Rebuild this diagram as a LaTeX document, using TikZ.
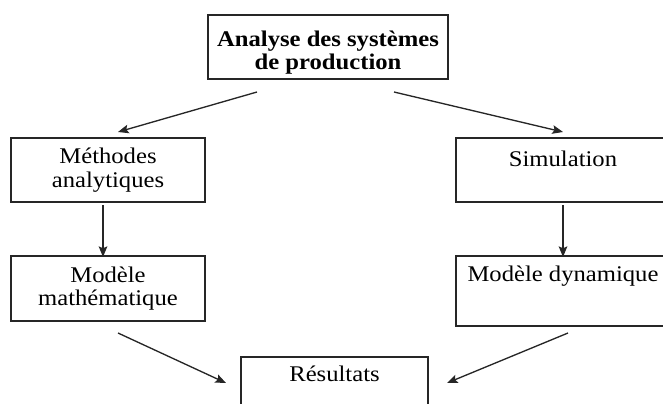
\documentclass[tikz,border=0pt]{standalone}
\usepackage{fontspec}
\setmainfont{Liberation Serif}[FakeStretch=1.1]
\usetikzlibrary{arrows.meta}
\begin{document}
\begin{tikzpicture}[x=0.75pt,y=-0.75pt,
  box/.style={draw=black!85, line width=1.2pt, inner sep=0pt, align=center,
    font=\fontsize{16.8pt}{17.6pt}\selectfont},
  conn/.style={draw=black!85, line width=1pt, -{Stealth[length=8pt,width=6.5pt,inset=1.5pt]}}]
\useasboundingbox (0,0) rectangle (663,403);
\clip (0,0) rectangle (663,403);
\node[box, minimum width=180pt, minimum height=48pt, font=\fontsize{16.8pt}{17.4pt}\selectfont\bfseries] (top) at (328,47) {\rule{0pt}{20pt}Analyse des systèmes\\de production};
\node[box, minimum width=145.5pt, minimum height=48pt] (meth) at (108,170) {Méthodes\\analytiques};
\node[box, minimum width=145.5pt, minimum height=48.75pt] (math) at (108,288.5) {Modèle\\mathématique};
\node[box, minimum width=160.5pt, minimum height=48pt] (sim) at (563,170) {Simulation\\\mbox{}};
\node[box, minimum width=160.5pt, minimum height=52.5pt] (dyn) at (563,291) {Modèle dynamique\\[8pt]\mbox{}};
\node[box, minimum width=140.25pt, minimum height=45pt] (res) at (334.5,387) {Résultats\\[2pt]\mbox{}};
\coordinate (a1s) at (257,92);
\coordinate (a1e) at (118,132);
\coordinate (a2s) at (394,92);
\coordinate (a2e) at (563,132);
\coordinate (a3s) at (103,205);
\coordinate (a3e) at (103,257);
\coordinate (a4s) at (563,205);
\coordinate (a4e) at (563,257);
\coordinate (a5s) at (118,333);
\coordinate (a5e) at (226,383);
\coordinate (a6s) at (568,333);
\coordinate (a6e) at (447,383);
\draw[conn] (a1s) -- (a1e);
\draw[conn] (a2s) -- (a2e);
\draw[conn] (a3s) -- (a3e);
\draw[conn] (a4s) -- (a4e);
\draw[conn] (a5s) -- (a5e);
\draw[conn] (a6s) -- (a6e);
\end{tikzpicture}
\end{document}
